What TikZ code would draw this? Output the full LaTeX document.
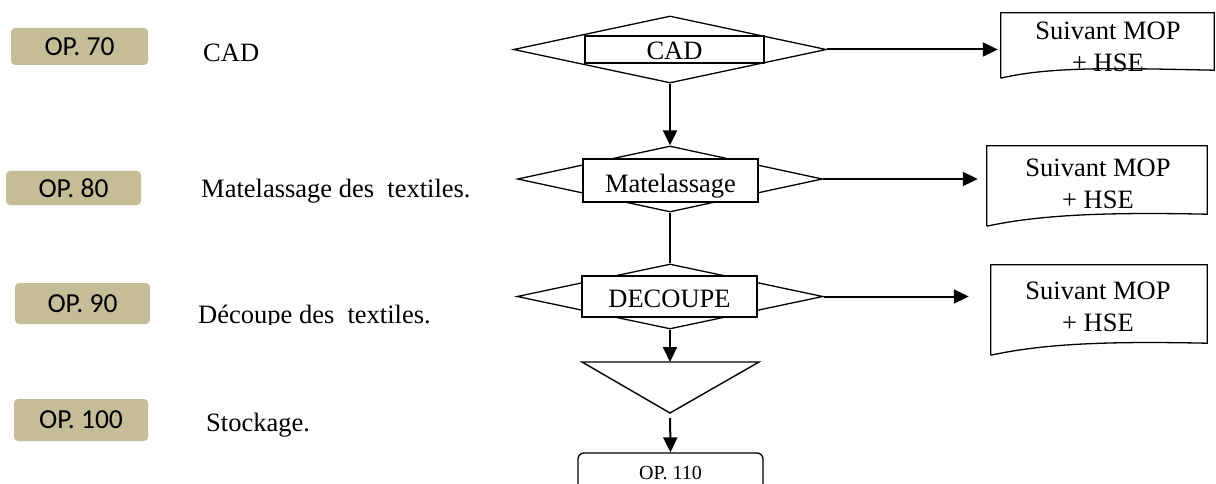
\documentclass[tikz,border=0pt]{standalone}
\usepackage{fontspec}
\setmainfont{Liberation Serif}
\newfontfamily\opfont{Carlito}
\usetikzlibrary{shapes.geometric,arrows.meta,calc}
\definecolor{optan}{HTML}{C4BD97}

\begin{document}
\begin{tikzpicture}[x=1pt,y=-1pt,
  optag/.style={fill=optan, rounded corners=4pt, inner sep=0pt,
    font=\opfont\fontsize{27.5}{30}\selectfont},
  steplabel/.style={anchor=base west, inner sep=0pt, font=\fontsize{26.5}{30}\selectfont},
  stepdia/.style={diamond, draw, line width=1.3pt, inner sep=0pt},
  stepbox/.style={draw, fill=white, line width=1.4pt, inner sep=0pt,
    text height=21pt, text depth=0pt, font=\fontsize{26.5}{30}\selectfont},
  docframe/.style={draw=none, inner sep=0pt},
  doctext/.style={align=center, inner sep=0pt, font=\fontsize{26.5}{32}\selectfont},
  docline/.style={line width=1.3pt, line join=miter},
  wire/.style={line width=2pt},
  flow/.style={line width=2pt, -{Triangle[length=15pt,width=14pt]}}
]
\useasboundingbox (0,0) rectangle (1216,484);
\clip (0,0) rectangle (1216,484);

% operation tags and step names
\node[optag, minimum width=137, minimum height=37] (op70)  at (79.5,46.5) {OP. 70};
\node[optag, minimum width=135, minimum height=34] (op80)  at (73.5,188)  {OP. 80};
\node[optag, minimum width=135, minimum height=41] (op90)  at (82.5,303.5) {OP. 90};
\node[optag, minimum width=134, minimum height=42] (op100) at (81,420)    {OP. 100};

\node[steplabel] (l70)  at (203,62)  {CAD};
\node[steplabel] (l80)  at (201,197) {Matelassage des\ \ textiles.};
\begin{scope}
  \clip (190,280) rectangle (470,324.5);
  \node[steplabel] (l90) at (198,323) {Découpe des\ \ textiles.};
\end{scope}
\node[steplabel] (l100) at (206,431) {Stockage.};

% process column
\node[stepdia, minimum width=313, minimum height=67] (cad) at (670,49.5) {};
\node[stepbox, minimum width=179, minimum height=27] at (674.5,49.5) {CAD};

\node[stepdia, minimum width=305, minimum height=66] (mat) at (670,179) {};
\node[stepbox, minimum width=175, minimum height=43, text height=25pt] at (670.5,180.5) {Matelassage};

\node[stepdia, minimum width=306, minimum height=65] (dec) at (670,296.5) {};
\node[stepbox, minimum width=175, minimum height=41] at (669.5,296.5) {DECOUPE};

% storage triangle
\coordinate (triL) at (582,362);
\coordinate (triR) at (759,362);
\coordinate (triV) at (670,413);
\draw[line width=1.4pt, line join=miter] (triL) -- (triR) -- (triV) -- cycle;

\node[draw, line width=1.3pt, rounded corners=6pt, minimum width=185, minimum height=40,
      inner sep=0pt, font=\fontsize{20}{24}\selectfont] (op110) at (670.5,473) {OP. 110};

% vertical flow
\draw[flow] (cad.south) -- (mat.north);
\draw[wire] (mat.south) -- (dec.north);
\draw[flow] (dec.south) -- (dec.south |- triL);
\draw[flow, shorten <=5pt] (triV) -- (op110.north);

% documents
\node[docframe, minimum width=213, minimum height=57] (doc1) at (1107.5,41.5) {};
\node[doctext] (doc1t) at (1108,47) {Suivant MOP\\+ HSE};
\draw[docline] ([yshift=-8pt]doc1.south west) -- (doc1.north west) -- (doc1.north east)
  -- (doc1.south east) .. controls +(-95,-2) and +(50,-12) .. ([yshift=-8pt]doc1.south west);

\node[docframe, minimum width=220, minimum height=68] (doc2) at (1097,180) {};
\node[doctext] (doc2t) at (1098,184) {Suivant MOP\\+ HSE};
\draw[docline] ([yshift=-12pt]doc2.south west) -- (doc2.north west) -- (doc2.north east)
  -- (doc2.south east) .. controls +(-95,-2) and +(55,-12) .. ([yshift=-12pt]doc2.south west);

\node[docframe, minimum width=216, minimum height=78] (doc3) at (1099,304) {};
\node[doctext] (doc3t) at (1098,306.5) {Suivant MOP\\+ HSE};
\draw[docline] ([yshift=-12pt]doc3.south west) -- (doc3.north west) -- (doc3.north east)
  -- (doc3.south east) .. controls +(-95,-2) and +(55,-12) .. ([yshift=-12pt]doc3.south west);

% outputs to documents
\draw[flow, shorten >=3pt]  (cad.east) -- (cad.east -| doc1.west);
\draw[flow, shorten >=9pt]  (mat.east) -- (mat.east -| doc2.west);
\draw[flow, shorten >=22pt] (dec.east) -- (dec.east -| doc3.west);
\end{tikzpicture}
\end{document}
